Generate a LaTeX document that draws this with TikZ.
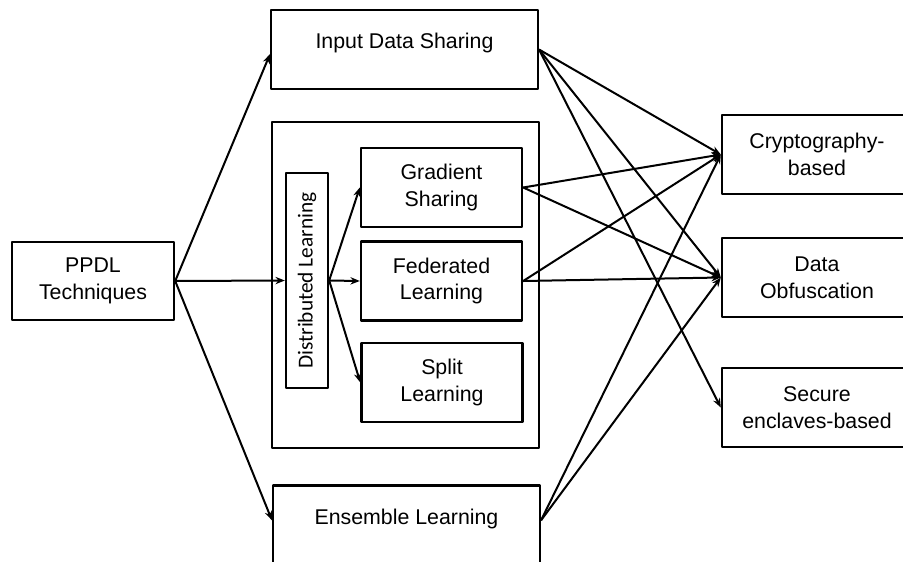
\documentclass[tikz,border=0pt]{standalone}
\usepackage{fontspec}
\setmainfont{Liberation Sans}
\newfontfamily\narrowfont{Carlito}
\usetikzlibrary{positioning,arrows.meta}
\begin{document}
\begin{tikzpicture}[x=0.75pt,y=-0.75pt,line join=round,>={Stealth[length=7pt,width=5.5pt]},thick]
    \tikzset{every node/.style={font=\fontsize{16}{20}\selectfont},
        box/.style={draw,line width=1.8pt,align=center,inner sep=0pt},
        smallbox/.style={box,minimum width=120.75pt,minimum height=59.25pt},
        sidebox/.style={box,minimum width=142.5pt,minimum height=59.25pt},
        widebox/.style={box,minimum width=200pt,minimum height=59.25pt,text depth=13pt},
        flow/.style={->,line width=1.5pt}}
    \useasboundingbox (0,0) rectangle (903,561);
    \clip (0,0) rectangle (903,561);
    % left and middle column
    \node[box,minimum width=121.5pt,minimum height=58.5pt] (ppdl) at (93,281) {PPDL\\Techniques};
    \node[widebox] (input) at (404.5,49.5) {Input Data Sharing};
    \node[box,minimum width=200.25pt,minimum height=244.5pt] (frame) at (405.5,285) {};
    \node[widebox] (ens) at (406.5,525) {Ensemble Learning};
    % inside the frame (rotated: north is the left side)
    \node[box,rotate=90,minimum width=161.25pt,minimum height=31.5pt,font=\narrowfont\fontsize{16}{20}\selectfont] (dist) at (307,280.5) {Distributed Learning};
    \node[smallbox] (grad) at (441.5,187.5) {Gradient\\Sharing};
    \node[smallbox] (fed) at (441.5,281) {Federated\\Learning};
    \node[smallbox] (split) at (442,382.5) {Split\\Learning};
    % right column
    \node[sidebox] (crypto) at (817,154.5) {Cryptography-\\based};
    \node[sidebox] (obf) at (817,277.5) {Data\\Obfuscation};
    \node[sidebox] (secure) at (817,407.5) {Secure\\enclaves-based};
    % connectors
    \draw[flow] (ppdl.east) -- (input.182);
    \draw[flow] (ppdl.east) -- (dist.north);
    \draw[flow] (ppdl.east) -- (ens.178);
    \foreach \dst in {grad,fed,split}
        \draw[flow] (dist.south) -- (\dst.west);
    \foreach \src in {input,grad,fed}
        \foreach \dst in {crypto,obf}
            \draw[flow] (\src.east) -- (\dst.west);
    \foreach \dst in {crypto,obf}
        \draw[flow] (ens.2) -- (\dst.west);
    \draw[flow] (input.east) -- (secure.west);
\end{tikzpicture}
\end{document}
